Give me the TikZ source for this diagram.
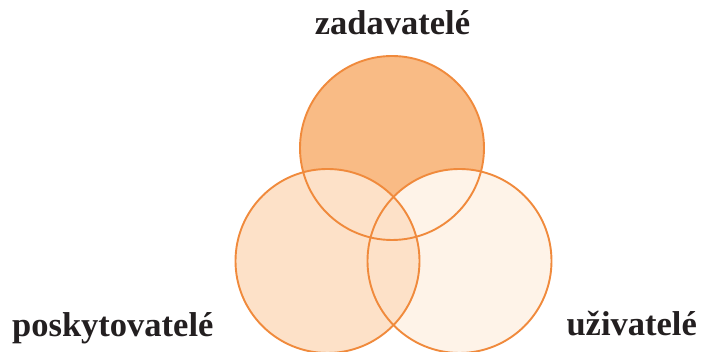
\documentclass[tikz,border=0pt]{standalone}
\usepackage{fontspec}
\setmainfont{Liberation Serif}
\definecolor{ring}{HTML}{F08A3C}
\definecolor{topfill}{HTML}{F9BB85}
\definecolor{leftfill}{HTML}{FDE1C8}
\definecolor{rightfill}{HTML}{FEF3E8}
\definecolor{ink}{HTML}{231F20}
\begin{document}
\begin{tikzpicture}[x=1pt,y=1pt,
  ring/.style = {draw=ring, line width=1.9pt},
  label/.style = {font=\fontsize{34.5}{40}\selectfont\bfseries, text=ink, inner sep=0pt}]
\useasboundingbox (0,0) rectangle (704,352);
\fill [topfill] (392,204) circle (92);
\fill [rightfill] (459.5,91) circle (92);
\fill [leftfill] (327.5,91) circle (92);
\draw [ring] (392,204) circle (92);
\draw [ring] (459.5,91) circle (92);
\draw [ring] (327.5,91) circle (92);
\node [label, anchor=base] (zadavatele) at (392.5,317) {zadavatelé};
\node [label, anchor=base west] (poskytovatele) at (12,15) {poskytovatelé};
\node [label, anchor=base east] (uzivatele) at (697,16) {uživatelé};
\end{tikzpicture}
\end{document}
